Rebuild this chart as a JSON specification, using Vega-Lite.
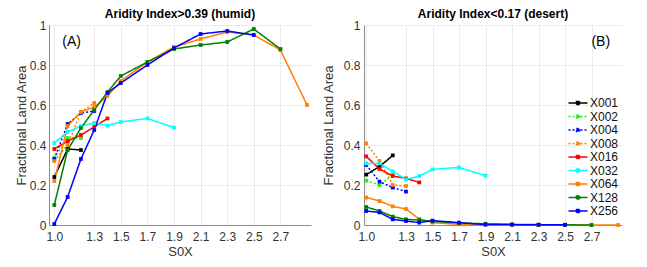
{
  "$schema": "https://vega.github.io/schema/vega-lite/v6.json",
  "padding": {"left": 15, "top": 8, "right": 5, "bottom": 5},
  "spacing": 11,
  "config": {
    "font": "Liberation Sans",
    "view": {"stroke": null},
    "axis": {
      "labelFont": "Liberation Sans", "labelFontSize": 12, "labelColor": "#333333",
      "titleFont": "Liberation Sans", "titleFontSize": 13, "titleFontWeight": "normal", "titleColor": "#333333",
      "domainColor": "#8c8c8c", "gridColor": "#ebebeb", "ticks": false, "tickSize": 0, "tickCount": 30,
      "labelOverlap": false, "labelFlush": false, "labelBound": false
    },
    "title": {"font": "Liberation Sans", "fontSize": 12, "fontWeight": "bold", "color": "#000000", "offset": -2},
    "legend": {"labelFont": "Liberation Sans", "labelFontSize": 12, "labelColor": "#111111"}
  },
  "resolve": {"legend": {"color": "independent", "strokeDash": "independent"}},
  "datasets": {
    "rows": [
      {"p":"A","s":"X001","x":1.0,"y":0.24},{"p":"A","s":"X001","x":1.1,"y":0.38},{"p":"A","s":"X001","x":1.2,"y":0.375},
      {"p":"A","s":"X002","x":1.0,"y":0.335},{"p":"A","s":"X002","x":1.1,"y":0.435},{"p":"A","s":"X002","x":1.2,"y":0.435},
      {"p":"A","s":"X004","x":1.0,"y":0.33},{"p":"A","s":"X004","x":1.1,"y":0.505},{"p":"A","s":"X004","x":1.2,"y":0.56},{"p":"A","s":"X004","x":1.3,"y":0.57},
      {"p":"A","s":"X008","x":1.0,"y":0.32},{"p":"A","s":"X008","x":1.1,"y":0.40},{"p":"A","s":"X008","x":1.2,"y":0.565},{"p":"A","s":"X008","x":1.3,"y":0.61},
      {"p":"A","s":"X016","x":1.0,"y":0.38},{"p":"A","s":"X016","x":1.1,"y":0.42},{"p":"A","s":"X016","x":1.2,"y":0.45},{"p":"A","s":"X016","x":1.3,"y":0.49},{"p":"A","s":"X016","x":1.4,"y":0.533},
      {"p":"A","s":"X032","x":1.0,"y":0.41},{"p":"A","s":"X032","x":1.1,"y":0.465},{"p":"A","s":"X032","x":1.2,"y":0.495},{"p":"A","s":"X032","x":1.3,"y":0.51},{"p":"A","s":"X032","x":1.4,"y":0.497},{"p":"A","s":"X032","x":1.5,"y":0.515},{"p":"A","s":"X032","x":1.7,"y":0.533},{"p":"A","s":"X032","x":1.9,"y":0.487},
      {"p":"A","s":"X064","x":1.0,"y":0.22},{"p":"A","s":"X064","x":1.1,"y":0.495},{"p":"A","s":"X064","x":1.2,"y":0.565},{"p":"A","s":"X064","x":1.3,"y":0.59},{"p":"A","s":"X064","x":1.4,"y":0.645},{"p":"A","s":"X064","x":1.5,"y":0.72},{"p":"A","s":"X064","x":1.7,"y":0.815},{"p":"A","s":"X064","x":1.9,"y":0.89},{"p":"A","s":"X064","x":2.1,"y":0.93},{"p":"A","s":"X064","x":2.3,"y":0.965},{"p":"A","s":"X064","x":2.5,"y":0.95},{"p":"A","s":"X064","x":2.7,"y":0.875},{"p":"A","s":"X064","x":2.9,"y":0.60},
      {"p":"A","s":"X128","x":1.0,"y":0.10},{"p":"A","s":"X128","x":1.1,"y":0.375},{"p":"A","s":"X128","x":1.2,"y":0.485},{"p":"A","s":"X128","x":1.3,"y":0.575},{"p":"A","s":"X128","x":1.4,"y":0.665},{"p":"A","s":"X128","x":1.5,"y":0.745},{"p":"A","s":"X128","x":1.7,"y":0.815},{"p":"A","s":"X128","x":1.9,"y":0.88},{"p":"A","s":"X128","x":2.1,"y":0.90},{"p":"A","s":"X128","x":2.3,"y":0.915},{"p":"A","s":"X128","x":2.5,"y":0.98},{"p":"A","s":"X128","x":2.7,"y":0.88},
      {"p":"A","s":"X256","x":1.0,"y":0.005},{"p":"A","s":"X256","x":1.1,"y":0.14},{"p":"A","s":"X256","x":1.2,"y":0.33},{"p":"A","s":"X256","x":1.3,"y":0.475},{"p":"A","s":"X256","x":1.4,"y":0.66},{"p":"A","s":"X256","x":1.5,"y":0.71},{"p":"A","s":"X256","x":1.7,"y":0.80},{"p":"A","s":"X256","x":1.9,"y":0.885},{"p":"A","s":"X256","x":2.1,"y":0.955},{"p":"A","s":"X256","x":2.3,"y":0.97},{"p":"A","s":"X256","x":2.5,"y":0.95},

      {"p":"B","s":"X001","x":1.0,"y":0.252},{"p":"B","s":"X001","x":1.1,"y":0.292},{"p":"B","s":"X001","x":1.2,"y":0.348},
      {"p":"B","s":"X002","x":1.0,"y":0.222},{"p":"B","s":"X002","x":1.1,"y":0.20},{"p":"B","s":"X002","x":1.2,"y":0.25},
      {"p":"B","s":"X004","x":1.0,"y":0.30},{"p":"B","s":"X004","x":1.1,"y":0.217},{"p":"B","s":"X004","x":1.2,"y":0.187},{"p":"B","s":"X004","x":1.3,"y":0.167},
      {"p":"B","s":"X008","x":1.0,"y":0.408},{"p":"B","s":"X008","x":1.1,"y":0.32},{"p":"B","s":"X008","x":1.2,"y":0.20},{"p":"B","s":"X008","x":1.3,"y":0.195},
      {"p":"B","s":"X016","x":1.0,"y":0.343},{"p":"B","s":"X016","x":1.1,"y":0.28},{"p":"B","s":"X016","x":1.2,"y":0.245},{"p":"B","s":"X016","x":1.3,"y":0.233},{"p":"B","s":"X016","x":1.4,"y":0.213},
      {"p":"B","s":"X032","x":1.0,"y":0.308},{"p":"B","s":"X032","x":1.1,"y":0.308},{"p":"B","s":"X032","x":1.2,"y":0.268},{"p":"B","s":"X032","x":1.3,"y":0.228},{"p":"B","s":"X032","x":1.4,"y":0.245},{"p":"B","s":"X032","x":1.5,"y":0.278},{"p":"B","s":"X032","x":1.7,"y":0.288},{"p":"B","s":"X032","x":1.9,"y":0.247},
      {"p":"B","s":"X064","x":1.0,"y":0.137},{"p":"B","s":"X064","x":1.1,"y":0.12},{"p":"B","s":"X064","x":1.2,"y":0.093},{"p":"B","s":"X064","x":1.3,"y":0.08},{"p":"B","s":"X064","x":1.4,"y":0.03},{"p":"B","s":"X064","x":1.5,"y":0.012},{"p":"B","s":"X064","x":1.7,"y":0.003},{"p":"B","s":"X064","x":1.9,"y":0.002},{"p":"B","s":"X064","x":2.1,"y":0.001},{"p":"B","s":"X064","x":2.3,"y":0.0},{"p":"B","s":"X064","x":2.5,"y":0.0},{"p":"B","s":"X064","x":2.7,"y":0.0},{"p":"B","s":"X064","x":2.9,"y":0.0},
      {"p":"B","s":"X128","x":1.0,"y":0.09},{"p":"B","s":"X128","x":1.1,"y":0.07},{"p":"B","s":"X128","x":1.2,"y":0.042},{"p":"B","s":"X128","x":1.3,"y":0.028},{"p":"B","s":"X128","x":1.4,"y":0.025},{"p":"B","s":"X128","x":1.5,"y":0.018},{"p":"B","s":"X128","x":1.7,"y":0.01},{"p":"B","s":"X128","x":1.9,"y":0.006},{"p":"B","s":"X128","x":2.1,"y":0.003},{"p":"B","s":"X128","x":2.3,"y":0.002},{"p":"B","s":"X128","x":2.5,"y":0.001},{"p":"B","s":"X128","x":2.7,"y":0.0},
      {"p":"B","s":"X256","x":1.0,"y":0.07},{"p":"B","s":"X256","x":1.1,"y":0.063},{"p":"B","s":"X256","x":1.2,"y":0.028},{"p":"B","s":"X256","x":1.3,"y":0.02},{"p":"B","s":"X256","x":1.4,"y":0.012},{"p":"B","s":"X256","x":1.5,"y":0.022},{"p":"B","s":"X256","x":1.7,"y":0.012},{"p":"B","s":"X256","x":1.9,"y":0.002},{"p":"B","s":"X256","x":2.1,"y":0.002},{"p":"B","s":"X256","x":2.3,"y":0.001},{"p":"B","s":"X256","x":2.5,"y":0.001}
    ],
    "labA": [{"t": "(A)", "x": 1.06, "y": 0.915}],
    "labB": [{"t": "(B)", "x": 2.84, "y": 0.915}]
  },
  "hconcat": [
    {
      "width": 262, "height": 200,
      "title": "Aridity Index>0.39 (humid)",
      "layer": [
        {
          "data": {"name": "rows"},
          "transform": [{"filter": "datum.p === 'A'"}],
          "mark": {"type": "line", "strokeWidth": 1.5, "point": {"filled": true, "size": 14, "shape": "square"}},
          "encoding": {
            "x": {"field": "x", "type": "quantitative", "title": "S0X",
                  "scale": {"domain": [0.96, 2.93], "nice": false, "zero": false},
                  "axis": {"values": [1.0, 1.3, 1.5, 1.7, 1.9, 2.1, 2.3, 2.5, 2.7], "format": ".1f", "labelPadding": 6, "titlePadding": 3}},
            "y": {"field": "y", "type": "quantitative", "title": "Fractional Land Area",
                  "scale": {"domain": [0, 1], "nice": false},
                  "axis": {"values": [0, 0.2, 0.4, 0.6, 0.8, 1], "format": "~g", "labelPadding": 3, "titlePadding": 1}},
            "color": {"field": "s", "type": "nominal", "legend": null,
                      "scale": {"domain": ["X001","X002","X004","X008","X016","X032","X064","X128","X256"],
                                "range": ["#000000","#22ee22","#0000ff","#ff8000","#ff0000","#00ffff","#ff8000","#008000","#0000ff"]}},
            "strokeDash": {"field": "s", "type": "nominal", "legend": null,
                      "scale": {"domain": ["X001","X002","X004","X008","X016","X032","X064","X128","X256"],
                                "range": [[1,0],[2,2],[2,2],[2,2],[1,0],[1,0],[1,0],[1,0],[1,0]]}}
          }
        },
        {
          "data": {"name": "labA"},
          "mark": {"type": "text", "align": "left", "baseline": "middle", "fontSize": 14, "font": "Liberation Sans", "color": "#000000"},
          "encoding": {
            "x": {"field": "x", "type": "quantitative"},
            "y": {"field": "y", "type": "quantitative"},
            "text": {"field": "t"}
          }
        }
      ]
    },
    {
      "width": 258, "height": 200,
      "title": "Aridity Index<0.17 (desert)",
      "layer": [
        {
          "data": {"name": "rows"},
          "transform": [{"filter": "datum.p === 'B'"}],
          "mark": {"type": "line", "strokeWidth": 1.5, "point": {"filled": true, "size": 14, "shape": "square"}},
          "encoding": {
            "x": {"field": "x", "type": "quantitative", "title": "S0X",
                  "scale": {"domain": [0.983, 2.93], "nice": false, "zero": false},
                  "axis": {"values": [1.0, 1.3, 1.5, 1.7, 1.9, 2.1, 2.3, 2.5, 2.7], "format": ".1f", "labelPadding": 6, "titlePadding": 3}},
            "y": {"field": "y", "type": "quantitative", "title": "Fractional Land Area",
                  "scale": {"domain": [0, 1], "nice": false},
                  "axis": {"values": [0, 0.2, 0.4, 0.6, 0.8, 1], "format": "~g", "labelPadding": 4, "titlePadding": 8}},
            "color": {"field": "s", "type": "nominal", "title": null,
                      "scale": {"domain": ["X001","X002","X004","X008","X016","X032","X064","X128","X256"],
                                "range": ["#000000","#22ee22","#0000ff","#ff8000","#ff0000","#00ffff","#ff8000","#008000","#0000ff"]},
                      "legend": {"orient": "none", "legendX": 208, "legendY": 72, "symbolType": "M-1.9,0H1.9M-0.3,-0.3H0.3V0.3H-0.3Z", "symbolSize": 100, "symbolStrokeWidth": 1.5, "labelOffset": 6, "rowPadding": 1.5, "padding": 0,
                                 "encode": {"symbols": {"update": {"fill": {"scale": "color", "field": "value"}}}}}},
            "strokeDash": {"field": "s", "type": "nominal", "title": null,
                      "scale": {"domain": ["X001","X002","X004","X008","X016","X032","X064","X128","X256"],
                                "range": [[1,0],[2,2],[2,2],[2,2],[1,0],[1,0],[1,0],[1,0],[1,0]]}}
          }
        },
        {
          "data": {"name": "labB"},
          "mark": {"type": "text", "align": "right", "baseline": "middle", "fontSize": 14, "font": "Liberation Sans", "color": "#000000"},
          "encoding": {
            "x": {"field": "x", "type": "quantitative"},
            "y": {"field": "y", "type": "quantitative"},
            "text": {"field": "t"}
          }
        }
      ]
    }
  ]
}
